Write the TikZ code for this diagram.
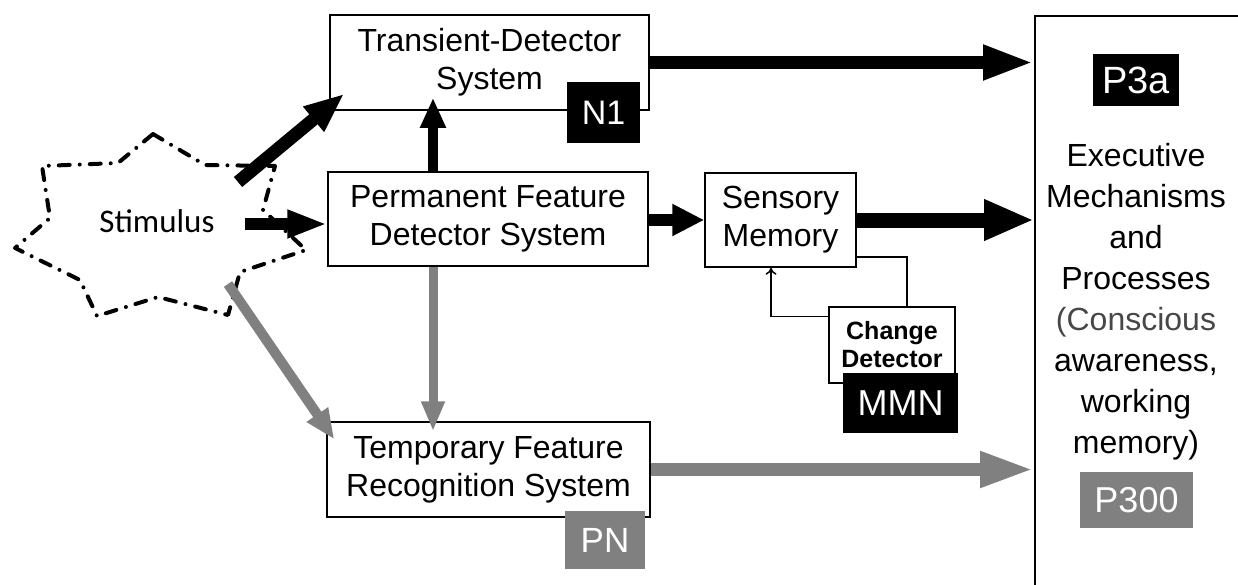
\documentclass[tikz,border=0pt]{standalone}
\usepackage{fontspec}
\setmainfont{Liberation Sans}
\newfontfamily\calibri{Carlito}
\usetikzlibrary{arrows.meta}

\definecolor{halftone}{gray}{0.5}
\definecolor{softtext}{gray}{0.28}

\begin{document}
\begin{tikzpicture}[x=1pt,y=-1pt,
  box/.style={draw=black,line width=1.5pt,fill=white,inner sep=0pt,align=center,
    font=\fontsize{32}{38}\selectfont},
  smallbox/.style={box,font=\bfseries\fontsize{25}{28}\selectfont},
  tagdark/.style={fill=black,text=white,inner sep=0pt},
  taglight/.style={fill=halftone,text=white,inner sep=0pt},
  fat/.style n args={3}{line width=#1,-{Triangle[length=#2,width=#3]}},
  thinlink/.style={draw=black,line width=1.5pt},
  outline/.style={line width=4pt,line cap=round,line join=round,
    dash pattern=on 11pt off 10pt on 0pt off 10pt}
]
\useasboundingbox (0,0) rectangle (1238,584);

% stimulus burst
\draw[outline] (153,134) -- (205,165) -- (275,166) -- (263,210) -- (306,250)
  -- (240,272) -- (228,315) -- (158,297) -- (97,316) -- (80,280) -- (15,248)
  -- (50,218) -- (42,166) -- (118,163) -- cycle;
\node[font=\calibri\fontsize{33}{36}\selectfont] (stim) at (157,221) {Stimulus};
\coordinate (s1) at (238,182);
\coordinate (s2) at (245,224);
\coordinate (s3) at (228,284);

% processing stages
\node[box,minimum width=319pt,minimum height=95pt] (trans) at (489.5,62.5)
  {Transient-Detector\\System};
\node[box,minimum width=320pt,minimum height=94pt] (perm) at (488,219)
  {Permanent Feature\\Detector System};
\node[box,minimum width=151pt,minimum height=94pt] (sens) at (780.5,220)
  {Sensory\\Memory};
\node[box,minimum width=323pt,minimum height=95pt] (temp) at (488.5,469.5)
  {Temporary Feature\\Recognition System};
\node[smallbox,minimum width=126pt,minimum height=76pt] (chg) at (892,345)
  {Change\\Detector};

% executive stage (runs off the right and bottom edges)
\node[draw=black,line width=2pt,anchor=north west,minimum width=260pt,
  minimum height=620pt] (exec) at (1034,15) {};
\node[anchor=north,align=center,inner sep=0pt,font=\fontsize{32}{41}\selectfont]
  (exectext) at (1136,143)
  {Executive\\Mechanisms\\and\\Processes\\\color{softtext}(Conscious\\awareness,\\working\\memory)};

% component labels
\node[tagdark,minimum width=73pt,minimum height=61pt,font=\fontsize{34}{34}\selectfont]
  (n1) at (603.5,112.5) {N1};
\node[taglight,minimum width=80pt,minimum height=58pt,font=\fontsize{35}{35}\selectfont]
  (pn) at (605,540) {PN};
\node[tagdark,minimum width=115pt,minimum height=60pt,font=\fontsize{36}{36}\selectfont]
  (mmn) at (900.5,403) {MMN};
\node[tagdark,minimum width=86pt,minimum height=52pt,font=\fontsize{38}{38}\selectfont]
  (p3a) at (1136,80) {P3a};
\node[taglight,minimum width=113pt,minimum height=56pt,font=\fontsize{36}{36}\selectfont]
  (p300) at (1136.5,500) {P300};

% feed-forward pathways
\coordinate (pt) at ([xshift=-55pt]perm.north);
\coordinate (pb) at ([xshift=-55pt]perm.south);
\draw[fat={13pt}{40pt}{30pt}] (s1) -- ([xshift=15pt,yshift=17pt]trans.south west);
\draw[fat={12pt}{40pt}{26pt}] (s2) -- (s2 -| perm.west);
\draw[fat={10pt}{30pt}{24pt},shorten >=-13pt] (pt) -- (pt |- trans.south);
\draw[fat={12pt}{32pt}{30pt}] (perm.east |- sens.west) -- (sens.west);
\draw[fat={13pt}{51pt}{32pt}] (trans.east) -- (exec.west |- trans.east);
\draw[fat={15pt}{50pt}{38pt}] (sens.east) -- (exec.west |- sens.east);

\draw[halftone,fat={10pt}{30pt}{24pt}] (s3) -- ([xshift=8pt,yshift=-18pt]temp.north west);
\draw[halftone,fat={9pt}{30pt}{22pt},shorten >=-10pt] (pb) -- (pb |- temp.north);
\draw[halftone,fat={13pt}{54pt}{33pt}] (temp.east) -- (exec.west |- temp.east);

% change-detection loop
\draw[thinlink] ([yshift=11pt]sens.south east) -| ([xshift=15pt]chg.north);
\draw[thinlink,-{To[length=7pt,width=11pt]}] ([yshift=-10pt]chg.north west)
  -| ([xshift=-9.5pt]sens.south);
\end{tikzpicture}
\end{document}
